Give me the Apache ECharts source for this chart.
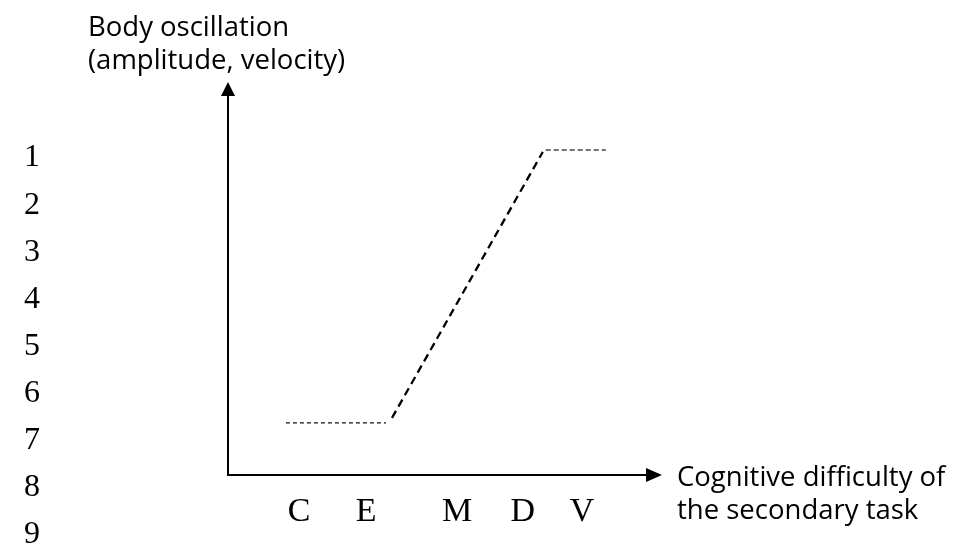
<!DOCTYPE html>
<html>
<head>
<meta charset="utf-8">
<script src="https://cdn.jsdelivr.net/npm/echarts@6/dist/echarts.min.js"></script>
<style>
  html, body { margin: 0; padding: 0; background: #fff; }
  #chart { width: 964px; height: 544px; }
</style>
</head>
<body>
<div id="chart"></div>
<script>
// ==================
// DATA
// ==================

const categories = ['C', 'E', 'M', 'D', 'V'];
const categoryX = [1.67, 3.24, 5.38, 6.92, 8.31];

// flat part at low difficulty
const lowX = [1.36, 3.71];
const lowY = [1.35, 1.35];

// rising part
const riseX = [3.85, 7.39];
const riseY = [1.48, 8.37];

// plateau at high difficulty
const highX = [7.46, 8.87];
const highY = [8.42, 8.42];

// line numbers of the manuscript page
const lineNumbers = ['1', '2', '3', '4', '5', '6', '7', '8', '9'];

const yTitle = 'Body oscillation\n(amplitude, velocity)';
const xTitle = 'Cognitive difficulty of\nthe secondary task';

// ==================
// CHART
// ==================

const chart = echarts.init(document.getElementById('chart'));

const pairs = (xs, ys) => xs.map((x, i) => [x, ys[i]]);

const serifFont = '"Liberation Serif", "Times New Roman", serif';
const sansFont = '"Open Sans", sans-serif';

const option = {
    backgroundColor: '#fff',
    animation: false,
    grid: {
        left: 228,
        right: 964 - 654,
        top: 89,
        bottom: 544 - 475,
        containLabel: false
    },
    xAxis: {
        type: 'value',
        min: 0,
        max: 10,
        axisLine: {
            show: true,
            symbol: ['none', 'triangle'],
            symbolSize: [14, 16],
            lineStyle: { color: '#000', width: 2 }
        },
        axisTick: { show: false },
        splitLine: { show: false },
        axisLabel: {
            show: true,
            customValues: categoryX,
            formatter: v => categories[categoryX.indexOf(v)] || '',
            color: '#000',
            fontFamily: serifFont,
            fontSize: 34,
            margin: 20
        }
    },
    yAxis: {
        type: 'value',
        min: 0,
        max: 10,
        axisLine: {
            show: true,
            symbol: ['none', 'triangle'],
            symbolSize: [14, 14],
            lineStyle: { color: '#000', width: 2 }
        },
        axisTick: { show: false },
        axisLabel: { show: false },
        splitLine: { show: false }
    },
    series: [
        {
            type: 'line',
            data: pairs(lowX, lowY),
            symbol: 'none',
            lineStyle: { color: '#111', width: 1.2, type: [4, 3] }
        },
        {
            type: 'line',
            data: pairs(riseX, riseY),
            symbol: 'none',
            lineStyle: { color: '#000', width: 2.3, type: [8, 5] }
        },
        {
            type: 'line',
            data: pairs(highX, highY),
            symbol: 'none',
            lineStyle: { color: '#444', width: 1.6, type: [5, 3] }
        }
    ],
    graphic: [
        {
            type: 'text',
            left: 88,
            top: 12,
            style: {
                text: yTitle,
                fill: '#000',
                font: '27.5px ' + sansFont,
                lineHeight: 33
            }
        },
        {
            type: 'text',
            left: 677,
            top: 462,
            style: {
                text: xTitle,
                fill: '#000',
                font: '27.5px ' + sansFont,
                lineHeight: 33
            }
        }
    ].concat(lineNumbers.map((n, i) => ({
        type: 'text',
        x: 32,
        y: 158 + i * 47.1,
        style: {
            text: n,
            fill: '#000',
            font: '32px ' + serifFont,
            align: 'center',
            verticalAlign: 'middle'
        }
    })))
};

chart.setOption(option);
</script>
</body>
</html>
